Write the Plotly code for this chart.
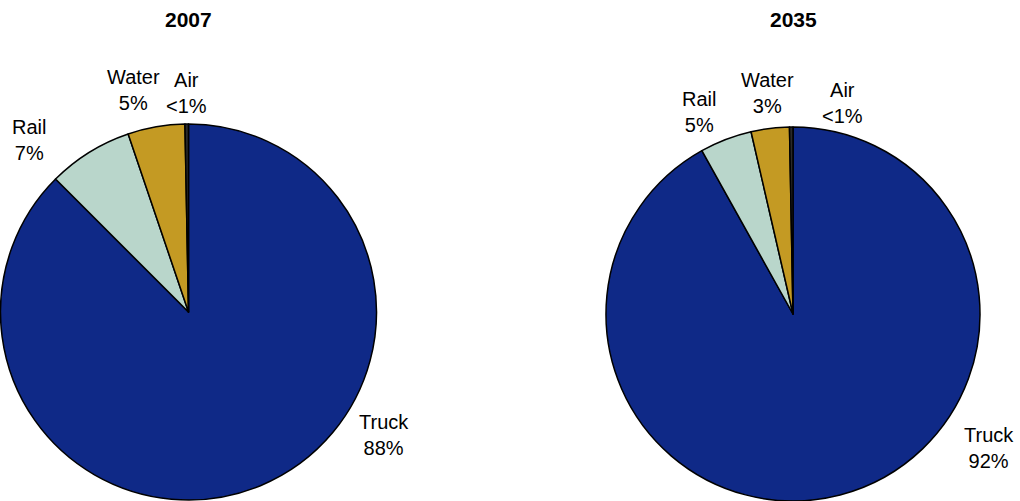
import plotly.graph_objects as go

# shares of freight tonnage by mode
modes = ["Truck", "Rail", "Water", "Air"]
share_2007 = [87.5, 7.3, 4.9, 0.3]
share_2035 = [91.9, 4.5, 3.3, 0.3]
labels_2007 = ["88%", "7%", "5%", "<1%"]
labels_2035 = ["92%", "5%", "3%", "<1%"]
colors = ["#0f2987", "#b9d6cb", "#c49a23", "#2a2a2a"]

FONT = "Liberation Sans Narrow, Arial Narrow, Liberation Sans, Arial, sans-serif"
W, H = 1020, 501

fig = go.Figure()

def add_pie(values, x0, x1, y0, y1):
    fig.add_trace(go.Pie(
        labels=modes,
        values=values,
        sort=False,
        direction="clockwise",
        rotation=0,
        marker=dict(colors=colors, line=dict(color="black", width=1.5)),
        textinfo="none",
        hoverinfo="label+percent",
        domain=dict(x=[max(0, x0 / W), min(1, x1 / W)],
                    y=[max(0, (H - y1) / H), min(1, (H - y0) / H)]),
        showlegend=False,
    ))

add_pie(share_2007, 0, 377, 124, 500)
add_pie(share_2035, 606, 980, 127, 501)

def label(x, y, text, size=20):
    fig.add_annotation(
        x=x / W, y=1 - y / H, xref="paper", yref="paper",
        text=text, showarrow=False, xanchor="center", yanchor="middle",
        font=dict(family=FONT, size=size, color="black"),
    )

label(188, 19, "<b>2007</b>", size=21)
label(793, 19, "<b>2035</b>", size=21)

# 2007 labels
label(29, 140, modes[1] + "<br>" + labels_2007[1])
label(133, 90, modes[2] + "<br>" + labels_2007[2])
label(186, 93, modes[3] + "<br>" + labels_2007[3])
label(384, 435, modes[0] + "<br>" + labels_2007[0])

# 2035 labels
label(699, 112, modes[1] + "<br>" + labels_2035[1])
label(767, 93, modes[2] + "<br>" + labels_2035[2])
label(842, 103, modes[3] + "<br>" + labels_2035[3])
label(989, 448, modes[0] + "<br>" + labels_2035[0])

fig.update_layout(
    width=W, height=H,
    margin=dict(l=0, r=0, t=0, b=0),
    paper_bgcolor="white",
    plot_bgcolor="white",
)

# drop the default page margin so the figure sits at the window's corner
fig.write_html("out.html", config={"displayModeBar": False},
               post_script="document.body.style.margin='0';")
